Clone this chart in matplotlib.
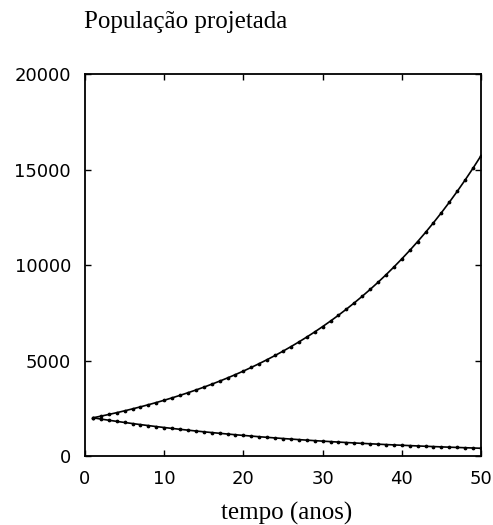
import numpy as np
import matplotlib
matplotlib.use('Agg')
import matplotlib.pyplot as plt

# anos
tempo = list(range(1, 51))

# populacao crescente
crescente = [2000, 2086, 2175, 2269, 2366, 2468, 2574, 2685, 2800, 2920,
             3046, 3177, 3313, 3456, 3604, 3759, 3921, 4089, 4265, 4448,
             4640, 4839, 5047, 5264, 5490, 5726, 5972, 6229, 6496, 6776,
             7067, 7371, 7688, 8018, 8363, 8722, 9097, 9488, 9896, 10322,
             10765, 11228, 11711, 12215, 12740, 13288, 13859, 14455, 15076, 15725]

# populacao decrescente
decrescente = [2000, 1936, 1874, 1814, 1756, 1700, 1645, 1593, 1542, 1492,
               1445, 1398, 1354, 1310, 1268, 1228, 1189, 1151, 1114, 1078,
               1044, 1010, 978, 947, 916, 887, 859, 831, 805, 779,
               754, 730, 706, 684, 662, 641, 620, 600, 581, 563,
               545, 527, 510, 494, 478, 463, 448, 434, 420, 406]

xticks = [0, 10, 20, 30, 40, 50]
yticks = [0, 5000, 10000, 15000, 20000]

fig = plt.figure(figsize=(4.93, 5.25), dpi=100)
ax = fig.add_axes([0.1724, 0.1314, 0.8033, 0.7276])

for serie in (crescente, decrescente):
    ax.plot(tempo, serie, color='black', lw=1.2, marker='o', ms=1.7)

ax.set_xlim(0, 50)
ax.set_ylim(0, 20000)
ax.set_xticks(xticks)
ax.set_yticks(yticks)
ax.tick_params(direction='in', length=4, width=1, top=True, right=True,
               labelsize=13, pad=10)
for lab in ax.get_xticklabels() + ax.get_yticklabels():
    lab.set_family('DejaVu Sans')
for s in ax.spines.values():
    s.set_linewidth(1.3)

fig.text(84 / 493, 1 - 22 / 525, 'População projetada', family='Liberation Serif',
         fontsize=18, ha='left', va='center')
fig.text(287 / 493, 1 - 513 / 525, 'tempo (anos)', family='Liberation Serif',
         fontsize=18, ha='center', va='center')

plt.savefig('out.png', dpi=100)
